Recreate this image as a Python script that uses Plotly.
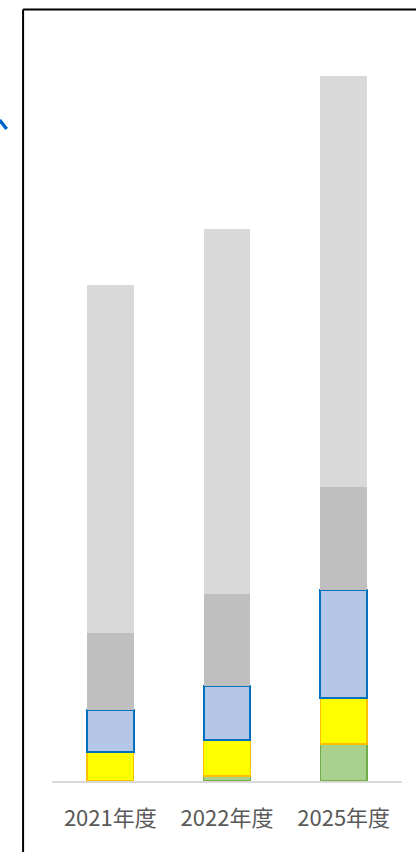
import plotly.graph_objects as go

categories = ["2021年度", "2022年度", "2025年度"]
green_vals = [0, 5, 37]
yellow_vals = [29, 36, 46]
blue_vals = [42, 54, 108]
dark_gray_vals = [77, 92, 103]
light_gray_vals = [348, 365, 411]

W, H = 416, 852
L, R = 51.5, 402.5
TOP, BASE = 40, 781

def px(x):
    return (x - L) / (R - L)

def py(y):
    return (BASE - y) / (BASE - TOP)

fig = go.Figure()
series = [
    (green_vals, "#A9D18E", "#70AD47", 1.5),
    (yellow_vals, "#FFFF00", "#FFC000", 1.5),
    (blue_vals, "#B4C7E7", "#0070C0", 2),
    (dark_gray_vals, "#BFBFBF", "#BFBFBF", 0),
    (light_gray_vals, "#D9D9D9", "#D9D9D9", 0),
]
for vals, fill, line, lw in series:
    fig.add_trace(go.Bar(
        x=categories, y=vals, width=0.40,
        marker=dict(color=fill, line=dict(color=line, width=lw)),
        showlegend=False, hoverinfo="skip",
    ))

fig.update_layout(
    barmode="stack",
    width=W, height=H,
    margin=dict(l=L, r=W - R, t=TOP, b=H - BASE, pad=0),
    paper_bgcolor="white", plot_bgcolor="white",
    xaxis=dict(
        showline=True, linecolor="#D9D9D9", linewidth=1.5,
        ticks="outside", ticklen=17, tickcolor="rgba(0,0,0,0)",
        tickfont=dict(family="Noto Sans CJK JP", size=22, color="#595959"),
        showgrid=False, zeroline=False, fixedrange=True,
    ),
    yaxis=dict(
        range=[0, BASE - TOP], visible=False, showgrid=False,
        zeroline=False, fixedrange=True,
    ),
    shapes=[
        dict(type="line", xref="paper", yref="paper",
             x0=px(22.5), x1=px(22.5), y0=py(9.5), y1=py(860),
             line=dict(color="black", width=2)),
        dict(type="line", xref="paper", yref="paper",
             x0=px(22.5), x1=px(420), y0=py(9.5), y1=py(9.5),
             line=dict(color="black", width=2)),
        dict(type="line", xref="paper", yref="paper",
             x0=px(-1), x1=px(6), y0=py(120), y1=py(129),
             line=dict(color="#0066CC", width=3.5)),
    ],
)

fig.write_html(
    "out.html",
    config={"displayModeBar": False},
    post_script="document.body.style.margin='0';document.body.style.overflow='hidden';",
)
